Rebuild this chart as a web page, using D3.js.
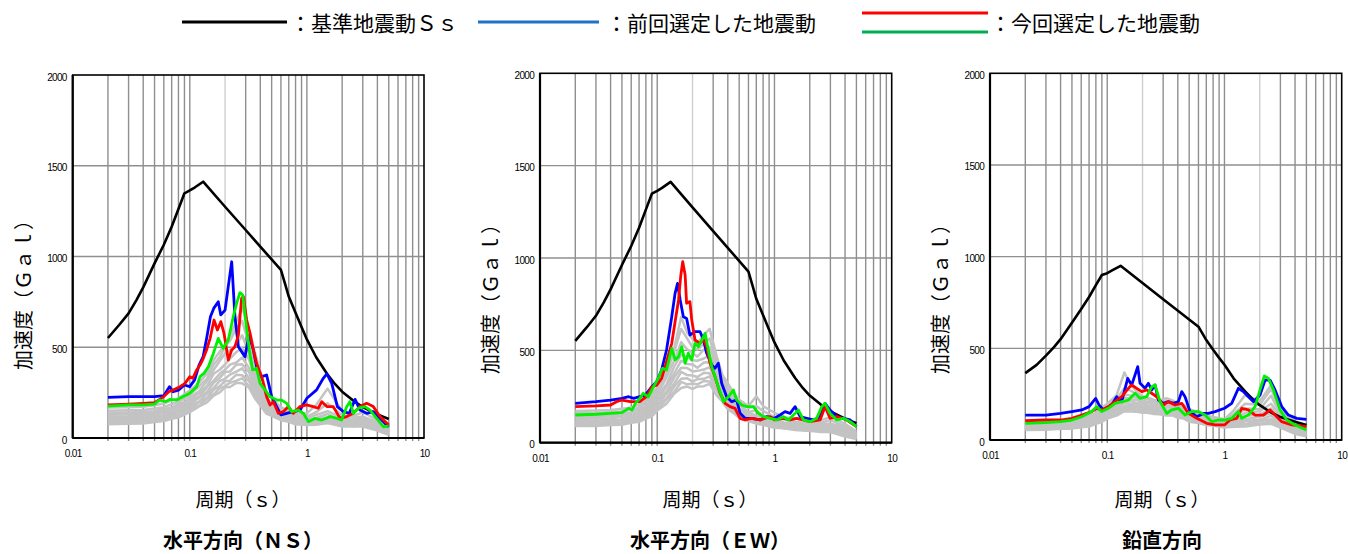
<!DOCTYPE html>
<html>
<head>
<meta charset="utf-8">
<script src="https://cdn.jsdelivr.net/npm/d3@7"></script>
<style>
  body { margin: 0; background: #fff; }
  svg { display: block; font-family: "Noto Sans CJK JP", "Noto Sans", sans-serif; }
  .tick text { font-family: "Liberation Sans", Arial, sans-serif; letter-spacing: -0.7px; }
</style>
</head>
<body>
<svg id="chart" width="1348" height="554"></svg>
<script>
// axis ticks
var xTicks = [0.01, 0.1, 1, 10];
var yTicks = [0, 500, 1000, 1500, 2000];

// 基準地震動Ss (horizontal / vertical)
var ssH = [[0.02,551],[0.025,624],[0.03,687],[0.035,760],[0.04,830],[0.05,962],[0.06,1065],[0.07,1164],[0.08,1262],[0.09,1348],[0.1,1364],[0.11,1380],[0.13,1412],[0.2,1274],[0.3,1146],[0.6,926],[0.65,850],[0.7,779],[0.8,690],[0.9,612],[1.0,543],[1.2,445],[1.5,350],[1.75,295],[2.0,255],[2.5,205],[3.0,170],[4.0,130],[5.0,105]];
var ssV = [[0.02,365],[0.025,410],[0.03,460],[0.035,505],[0.04,550],[0.05,640],[0.06,715],[0.07,780],[0.08,845],[0.09,900],[0.1,910],[0.11,925],[0.13,950],[0.2,856],[0.3,768],[0.6,618],[0.65,580],[0.7,545],[0.8,492],[0.9,448],[1.0,410],[1.2,335],[1.5,265],[1.75,222],[2.0,190],[2.5,150],[3.0,125],[4.0,100],[5.0,82]];

// periods shared by the grey (other) records
var grayPeriods = [0.02,0.03,0.04,0.05,0.06,0.07,0.08,0.09,0.1,0.12,0.14,0.16,0.18,0.2,0.22,0.25,0.28,0.32,0.36,0.4,0.45,0.5,0.6,0.7,0.8,1.0,1.2,1.5,2.0,2.5,3.0,4.0,5.0];

// ---- NS ----
var nsBlue = [[0.02,224],[0.03,228],[0.04,228],[0.05,228],[0.06,233],[0.067,283],[0.072,255],[0.08,264],[0.09,292],[0.1,283],[0.11,320],[0.12,402],[0.13,448],[0.14,558],[0.15,668],[0.16,714],[0.175,751],[0.184,678],[0.2,705],[0.213,834],[0.228,971],[0.243,668],[0.26,503],[0.277,476],[0.296,448],[0.32,567],[0.349,485],[0.377,375],[0.411,338],[0.453,347],[0.5,228],[0.552,173],[0.6,127],[0.672,136],[0.766,145],[0.873,154],[1.0,219],[1.21,265],[1.38,329],[1.48,353],[1.63,301],[1.82,173],[2.05,145],[2.3,136],[2.58,213],[2.84,154],[3.24,136],[3.69,145],[4.35,99],[5.0,60]];
var nsRed = [[0.02,182],[0.03,187],[0.04,191],[0.05,195],[0.06,228],[0.066,255],[0.072,264],[0.0825,283],[0.091,301],[0.1,338],[0.106,329],[0.1145,375],[0.1222,402],[0.1305,439],[0.139,485],[0.149,549],[0.161,650],[0.172,595],[0.184,641],[0.196,577],[0.213,430],[0.228,485],[0.243,503],[0.26,567],[0.277,770],[0.287,779],[0.306,650],[0.327,577],[0.349,485],[0.372,411],[0.411,338],[0.453,228],[0.484,182],[0.517,200],[0.57,136],[0.629,145],[0.694,173],[0.766,136],[0.873,173],[0.995,182],[1.13,173],[1.25,164],[1.34,200],[1.48,173],[1.68,173],[1.92,108],[2.19,118],[2.49,136],[2.84,173],[3.24,191],[3.69,173],[4.21,118],[5.0,72]];
var nsGreen = [[0.02,176],[0.03,182],[0.04,182],[0.05,187],[0.055,209],[0.062,200],[0.068,213],[0.077,209],[0.088,228],[0.1,246],[0.1145,283],[0.1222,338],[0.132,356],[0.144,393],[0.159,466],[0.175,549],[0.193,494],[0.213,540],[0.235,668],[0.251,742],[0.268,801],[0.283,788],[0.302,632],[0.322,485],[0.344,375],[0.372,384],[0.398,301],[0.439,265],[0.484,228],[0.552,209],[0.609,209],[0.672,191],[0.741,145],[0.845,154],[0.932,136],[1.03,90],[1.17,108],[1.34,99],[1.58,118],[1.8,108],[1.98,99],[2.19,173],[2.33,200],[2.49,136],[2.75,164],[3.14,173],[3.46,154],[3.94,108],[4.49,62],[5.0,65]];
var nsGray = [
  [168,170,172,180,190,208,218,242,262,305,355,430,475,515,565,640,720,600,470,365,255,218,168,152,138,136,182,272,148,122,142,98,55],
  [150,153,154,162,170,187,198,218,238,284,326,405,445,505,535,605,645,515,405,296,232,186,162,138,127,118,142,192,124,112,118,87,46],
  [138,140,143,147,160,168,187,198,224,258,314,376,424,466,484,516,566,466,364,276,218,176,152,128,120,108,127,148,112,98,107,73,40],
  [128,131,131,140,146,162,173,193,208,248,286,354,376,405,436,474,496,434,336,264,197,172,138,124,108,102,110,132,98,96,113,82,37],
  [118,120,124,127,140,148,167,176,200,228,279,316,354,376,404,416,444,386,314,236,188,157,134,113,106,93,107,113,94,86,102,68,33],
  [108,111,112,120,126,142,151,168,184,222,254,304,331,364,366,404,406,364,286,228,172,153,122,110,96,92,96,107,84,84,88,63,30],
  [100,101,106,108,122,129,145,154,178,201,244,276,314,326,349,366,384,331,274,206,168,139,120,100,95,83,94,96,82,74,84,54,26],
  [92,95,96,104,109,123,131,148,162,197,221,266,286,314,316,349,346,314,246,202,152,137,110,99,86,82,84,94,73,72,73,51,23],
  [84,85,90,92,105,111,126,134,158,178,216,242,274,286,304,316,329,286,239,181,150,123,108,90,85,73,82,84,72,64,72,44,20],
  [76,79,80,88,93,106,113,129,142,174,196,234,251,279,281,304,301,279,218,179,135,122,98,89,76,72,73,82,63,64,63,41,18]
];

// ---- EW ----
var ewBlue = [[0.02,213],[0.03,222],[0.04,231],[0.05,240],[0.057,249],[0.063,240],[0.071,249],[0.079,258],[0.09,303],[0.099,330],[0.109,394],[0.12,502],[0.133,682],[0.142,809],[0.149,863],[0.157,773],[0.167,682],[0.178,673],[0.19,583],[0.21,601],[0.232,601],[0.248,556],[0.264,484],[0.292,421],[0.311,403],[0.332,430],[0.355,321],[0.391,249],[0.432,222],[0.476,231],[0.509,159],[0.561,132],[0.64,132],[0.753,123],[0.859,141],[1.0,132],[1.116,150],[1.231,168],[1.359,159],[1.5,195],[1.654,141],[1.885,132],[2.15,123],[2.45,141],[2.7,213],[2.98,177],[3.4,141],[3.87,132],[4.42,123],[5.0,87]];
var ewRed = [[0.02,195],[0.03,199],[0.04,204],[0.045,222],[0.05,231],[0.059,222],[0.071,222],[0.081,249],[0.09,303],[0.099,312],[0.109,348],[0.12,439],[0.133,538],[0.142,655],[0.152,773],[0.159,908],[0.165,980],[0.173,908],[0.178,755],[0.19,764],[0.197,664],[0.21,556],[0.232,538],[0.248,556],[0.264,520],[0.282,430],[0.311,358],[0.344,267],[0.379,213],[0.418,195],[0.461,186],[0.509,132],[0.561,123],[0.64,132],[0.753,123],[0.917,141],[1.0,123],[1.192,132],[1.359,123],[1.55,132],[1.766,123],[2.01,114],[2.45,123],[2.7,195],[2.98,132],[3.4,141],[4.14,123],[5.0,87]];
var ewGreen = [[0.02,150],[0.03,154],[0.04,159],[0.05,163],[0.057,186],[0.061,177],[0.065,213],[0.071,240],[0.076,267],[0.084,249],[0.093,303],[0.102,348],[0.111,403],[0.12,394],[0.133,511],[0.142,448],[0.152,466],[0.162,520],[0.173,430],[0.184,484],[0.197,448],[0.21,538],[0.224,520],[0.24,556],[0.256,592],[0.273,502],[0.292,412],[0.311,358],[0.332,303],[0.367,222],[0.405,249],[0.446,285],[0.476,231],[0.526,204],[0.58,195],[0.661,195],[0.729,159],[0.805,141],[0.917,132],[1.045,123],[1.192,141],[1.315,123],[1.45,150],[1.6,177],[1.766,123],[2.01,114],[2.29,132],[2.53,195],[2.7,213],[2.98,159],[3.4,123],[3.87,132],[4.42,114],[5.0,87]];
var ewGray = [
  [172,175,177,184,189,207,228,262,298,404,516,680,596,562,536,584,616,472,366,322,266,232,198,252,198,162,138,132,108,122,138,102,60],
  [160,161,166,169,180,190,217,243,287,376,494,616,564,516,504,536,564,436,354,296,254,212,188,198,172,138,127,113,102,108,122,88,50],
  [148,151,152,160,164,182,198,230,262,354,446,544,506,484,466,504,516,414,326,284,231,204,166,174,148,127,110,106,90,102,103,82,45],
  [138,139,145,146,158,166,190,210,251,316,414,476,464,446,444,456,474,376,314,258,224,184,163,146,137,113,106,95,88,90,97,70,40],
  [128,131,132,140,144,160,174,203,228,304,376,444,426,424,406,434,436,364,286,249,204,181,147,141,122,110,96,94,80,88,86,67,36],
  [118,119,124,126,138,145,167,185,222,276,354,406,404,386,389,396,409,331,279,228,200,164,145,127,120,99,94,85,80,78,82,56,32],
  [110,113,114,122,126,140,153,179,201,266,321,384,366,364,356,379,376,319,256,224,182,163,132,126,109,99,86,85,72,77,72,54,28],
  [102,103,108,110,122,128,148,162,196,241,304,346,349,331,344,346,359,291,249,204,180,148,131,114,108,89,86,77,72,68,70,44,25],
  [95,98,99,107,110,124,133,158,176,234,276,329,316,319,316,334,331,284,228,200,162,147,118,113,98,89,78,77,64,67,60,42,22],
  [90,91,96,97,108,113,131,143,174,211,266,296,304,291,304,306,319,258,222,181,160,134,117,103,97,81,78,69,64,58,58,33,20]
];

// ---- UD ----
var udBlue = [[0.02,136],[0.03,136],[0.04,145],[0.05,155],[0.0606,164],[0.07,182],[0.0797,227],[0.0851,191],[0.0927,164],[0.1,173],[0.1092,191],[0.1204,236],[0.1329,209],[0.1495,336],[0.1617,300],[0.1727,355],[0.182,400],[0.1905,309],[0.2101,282],[0.2244,309],[0.2395,273],[0.2557,300],[0.2731,218],[0.3013,200],[0.3324,209],[0.3666,200],[0.4046,209],[0.432,264],[0.461,236],[0.509,155],[0.58,127],[0.661,145],[0.729,145],[0.832,155],[1.0,173],[1.153,200],[1.315,282],[1.45,264],[1.6,236],[1.766,209],[2.01,245],[2.22,327],[2.45,327],[2.7,273],[3.08,182],[3.51,136],[4.14,118],[5.0,113]];
var udRed = [[0.02,105],[0.03,109],[0.04,109],[0.05,118],[0.0606,136],[0.0737,155],[0.0813,173],[0.0897,164],[0.1023,182],[0.1166,209],[0.1329,236],[0.1515,282],[0.1617,300],[0.1784,282],[0.1968,264],[0.2171,273],[0.2395,255],[0.2642,236],[0.3013,191],[0.3324,209],[0.3788,191],[0.432,200],[0.4925,145],[0.58,118],[0.706,91],[0.832,82],[1.0,82],[1.116,109],[1.272,118],[1.404,173],[1.6,164],[1.824,136],[2.15,136],[2.45,164],[2.7,136],[3.08,100],[3.75,82],[5.0,73]];
var udGreen = [[0.02,91],[0.03,95],[0.04,100],[0.05,109],[0.0606,127],[0.0737,155],[0.0813,182],[0.0897,155],[0.1023,173],[0.1166,200],[0.1329,209],[0.1515,218],[0.1727,255],[0.1905,227],[0.2171,236],[0.2395,291],[0.2557,300],[0.2821,209],[0.3217,145],[0.3549,164],[0.4046,173],[0.461,136],[0.526,155],[0.599,155],[0.683,136],[0.779,100],[0.888,109],[1.0,109],[1.153,118],[1.315,155],[1.404,118],[1.6,136],[1.824,182],[2.01,273],[2.19,349],[2.37,336],[2.62,273],[2.98,164],[3.4,109],[4.0,82],[5.0,55]];
var udGray = [
  [100,103,104,112,117,132,148,177,198,243,368,298,262,238,232,218,217,228,216,198,192,168,152,133,126,113,162,245,212,300,178,102,63],
  [92,93,98,101,112,120,142,163,192,222,282,268,247,228,222,213,212,213,207,188,182,158,142,126,120,108,142,198,192,278,162,88,55],
  [85,88,89,97,102,116,130,157,176,213,248,242,228,217,208,207,198,202,193,182,168,152,130,122,110,106,118,172,168,242,138,82,48],
  [80,81,86,88,98,105,126,143,168,192,232,223,217,203,202,193,192,188,187,168,162,140,127,112,108,96,112,148,157,198,127,70,42],
  [75,78,79,87,91,103,115,138,153,185,210,212,200,197,188,187,178,182,173,162,148,136,116,110,98,94,98,132,138,172,110,67,38],
  [70,71,76,78,88,93,112,126,148,170,200,196,192,183,182,174,172,168,167,150,144,125,114,100,97,85,94,113,127,148,102,56,33],
  [66,69,70,77,80,92,102,122,136,164,184,188,178,177,170,170,160,162,154,146,133,122,104,99,88,84,84,102,110,132,88,54,29],
  [62,63,68,70,78,83,100,111,132,150,177,174,172,164,166,158,156,150,150,135,130,112,103,90,87,76,82,88,102,113,82,44,25],
  [58,61,62,68,70,82,90,108,120,145,163,168,159,160,153,154,144,146,138,132,119,110,94,89,79,76,73,84,88,102,70,42,22],
  [55,56,61,62,70,73,88,98,117,133,157,155,154,148,149,142,140,134,134,121,117,100,93,81,79,68,72,73,84,88,67,33,20]
];

var svg = d3.select("#chart");

var panels = [
  { left: 72.7, top: 75, right: 424, bottom: 438, yTitleX: 22, yTitleY: 290, titleX: 243, sub: "水平方向（ＮＳ）",
    ss: ssH, gray: nsGray, blue: nsBlue, red: nsRed, green: nsGreen, light: [0.2] },
  { left: 540, top: 73.3, right: 891.7, bottom: 442.7, yTitleX: 489, yTitleY: 294, titleX: 710, sub: "水平方向（ＥＷ）",
    ss: ssH, gray: ewGray, blue: ewBlue, red: ewRed, green: ewGreen, light: [0.2] },
  { left: 990, top: 73.3, right: 1341.7, bottom: 440, yTitleX: 939, yTitleY: 294, titleX: 1162, sub: "鉛直方向",
    ss: ssV, gray: udGray, blue: udBlue, red: udRed, green: udGreen, light: [0.2, 2] }
];

// grid periods: 2..9 of every decade plus the decade lines
var gridPeriods = [];
[0.01, 0.1, 1].forEach(function (d) {
  for (var m = 1; m <= 9; m++) {
    if (d === 0.01 && m === 1) continue;
    gridPeriods.push(+(d * m).toPrecision(3));
  }
});

panels.forEach(function (p) {
  var x = d3.scaleLog().domain([0.01, 10]).range([p.left, p.right]);
  var y = d3.scaleLinear().domain([0, 2000]).range([p.bottom, p.top]);
  var g = svg.append("g");

  // vertical grid
  g.selectAll("line.vgrid")
    .data(gridPeriods)
    .enter()
    .append("line")
    .attr("x1", function (d) { return x(d); })
    .attr("x2", function (d) { return x(d); })
    .attr("y1", p.top)
    .attr("y2", p.bottom + 3)
    .attr("stroke", function (d) { return p.light.indexOf(d) >= 0 ? "#cfcfcf" : "#8f8f8f"; })
    .attr("stroke-width", 1.4);

  // horizontal grid
  g.selectAll("line.hgrid")
    .data([500, 1000, 1500])
    .enter()
    .append("line")
    .attr("x1", p.left)
    .attr("x2", p.right)
    .attr("y1", function (d) { return y(d); })
    .attr("y2", function (d) { return y(d); })
    .attr("stroke", "#8f8f8f")
    .attr("stroke-width", 1.4);

  var line = d3.line()
    .x(function (d) { return x(d[0]); })
    .y(function (d) { return y(d[1]); });

  // other records (grey)
  p.gray.forEach(function (vals) {
    g.append("path")
      .datum(grayPeriods.map(function (t, i) { return [t, vals[i]]; }))
      .attr("d", line)
      .attr("fill", "none")
      .attr("stroke", "#c3c3c3")
      .attr("stroke-width", 2.5)
      .attr("stroke-linejoin", "round");
  });

  g.append("path").datum(p.ss).attr("d", line)
    .attr("fill", "none").attr("stroke", "#000").attr("stroke-width", 2.6)
    .attr("stroke-linejoin", "round");

  [[p.blue, "#0000ff"], [p.red, "#ff0000"], [p.green, "#00f000"]].forEach(function (s) {
    g.append("path").datum(s[0]).attr("d", line)
      .attr("fill", "none").attr("stroke", s[1]).attr("stroke-width", 2.8)
      .attr("stroke-linejoin", "round");
  });

  // frame
  g.append("rect")
    .attr("x", p.left).attr("y", p.top)
    .attr("width", p.right - p.left).attr("height", p.bottom - p.top)
    .attr("fill", "none").attr("stroke", "#000").attr("stroke-width", 1.6);
  g.append("line").attr("x1", p.left).attr("x2", p.left).attr("y1", p.top).attr("y2", p.bottom)
    .attr("stroke", "#000").attr("stroke-width", 2.2);
  g.append("line").attr("x1", p.left).attr("x2", p.right).attr("y1", p.bottom).attr("y2", p.bottom)
    .attr("stroke", "#000").attr("stroke-width", 2.2);

  // axes
  var xa = g.append("g").attr("transform", "translate(0," + p.bottom + ")")
    .call(d3.axisBottom(x).tickValues(xTicks).tickSize(0).tickPadding(12)
      .tickFormat(function (d) { return String(d); }));
  xa.select(".domain").remove();
  xa.selectAll("text").attr("font-size", 10).attr("fill", "#000");

  var ya = g.append("g").attr("transform", "translate(" + p.left + ",0)")
    .call(d3.axisLeft(y).tickValues(yTicks).tickSize(0).tickPadding(6).tickFormat(d3.format("d")));
  ya.select(".domain").remove();
  ya.selectAll("text").attr("font-size", 10).attr("fill", "#000").attr("dy", "0.5em");

  // titles
  g.append("text")
    .attr("transform", "translate(" + p.yTitleX + "," + p.yTitleY + ") rotate(-90)")
    .attr("text-anchor", "middle").attr("dominant-baseline", "central")
    .attr("font-size", 20).text("加速度（Ｇａｌ）");
  g.append("text")
    .attr("x", p.titleX).attr("y", 498)
    .attr("text-anchor", "middle").attr("dominant-baseline", "central")
    .attr("font-size", 19).text("周期（ｓ）");
  g.append("text")
    .attr("x", p.titleX).attr("y", 539)
    .attr("text-anchor", "middle").attr("dominant-baseline", "central")
    .attr("font-size", 20).attr("font-weight", "bold").text(p.sub);
});

// legend
var legend = [
  { x1: 182, x2: 287, ys: [22], colors: ["#000"], tx: 290, label: "：基準地震動Ｓｓ" },
  { x1: 478, x2: 599, ys: [22], colors: ["#1f72c6"], tx: 606, label: "：前回選定した地震動" },
  { x1: 862, x2: 988, ys: [13, 32], colors: ["#ff0000", "#00b050"], tx: 990, label: "：今回選定した地震動" }
];
var lg = svg.append("g");
legend.forEach(function (l) {
  l.ys.forEach(function (yy, i) {
    lg.append("line").attr("x1", l.x1).attr("x2", l.x2).attr("y1", yy).attr("y2", yy)
      .attr("stroke", l.colors[i]).attr("stroke-width", 3);
  });
  lg.append("text").attr("x", l.tx).attr("y", 22)
    .attr("dominant-baseline", "central").attr("font-size", 21).text(l.label);
});
</script>
</body>
</html>
